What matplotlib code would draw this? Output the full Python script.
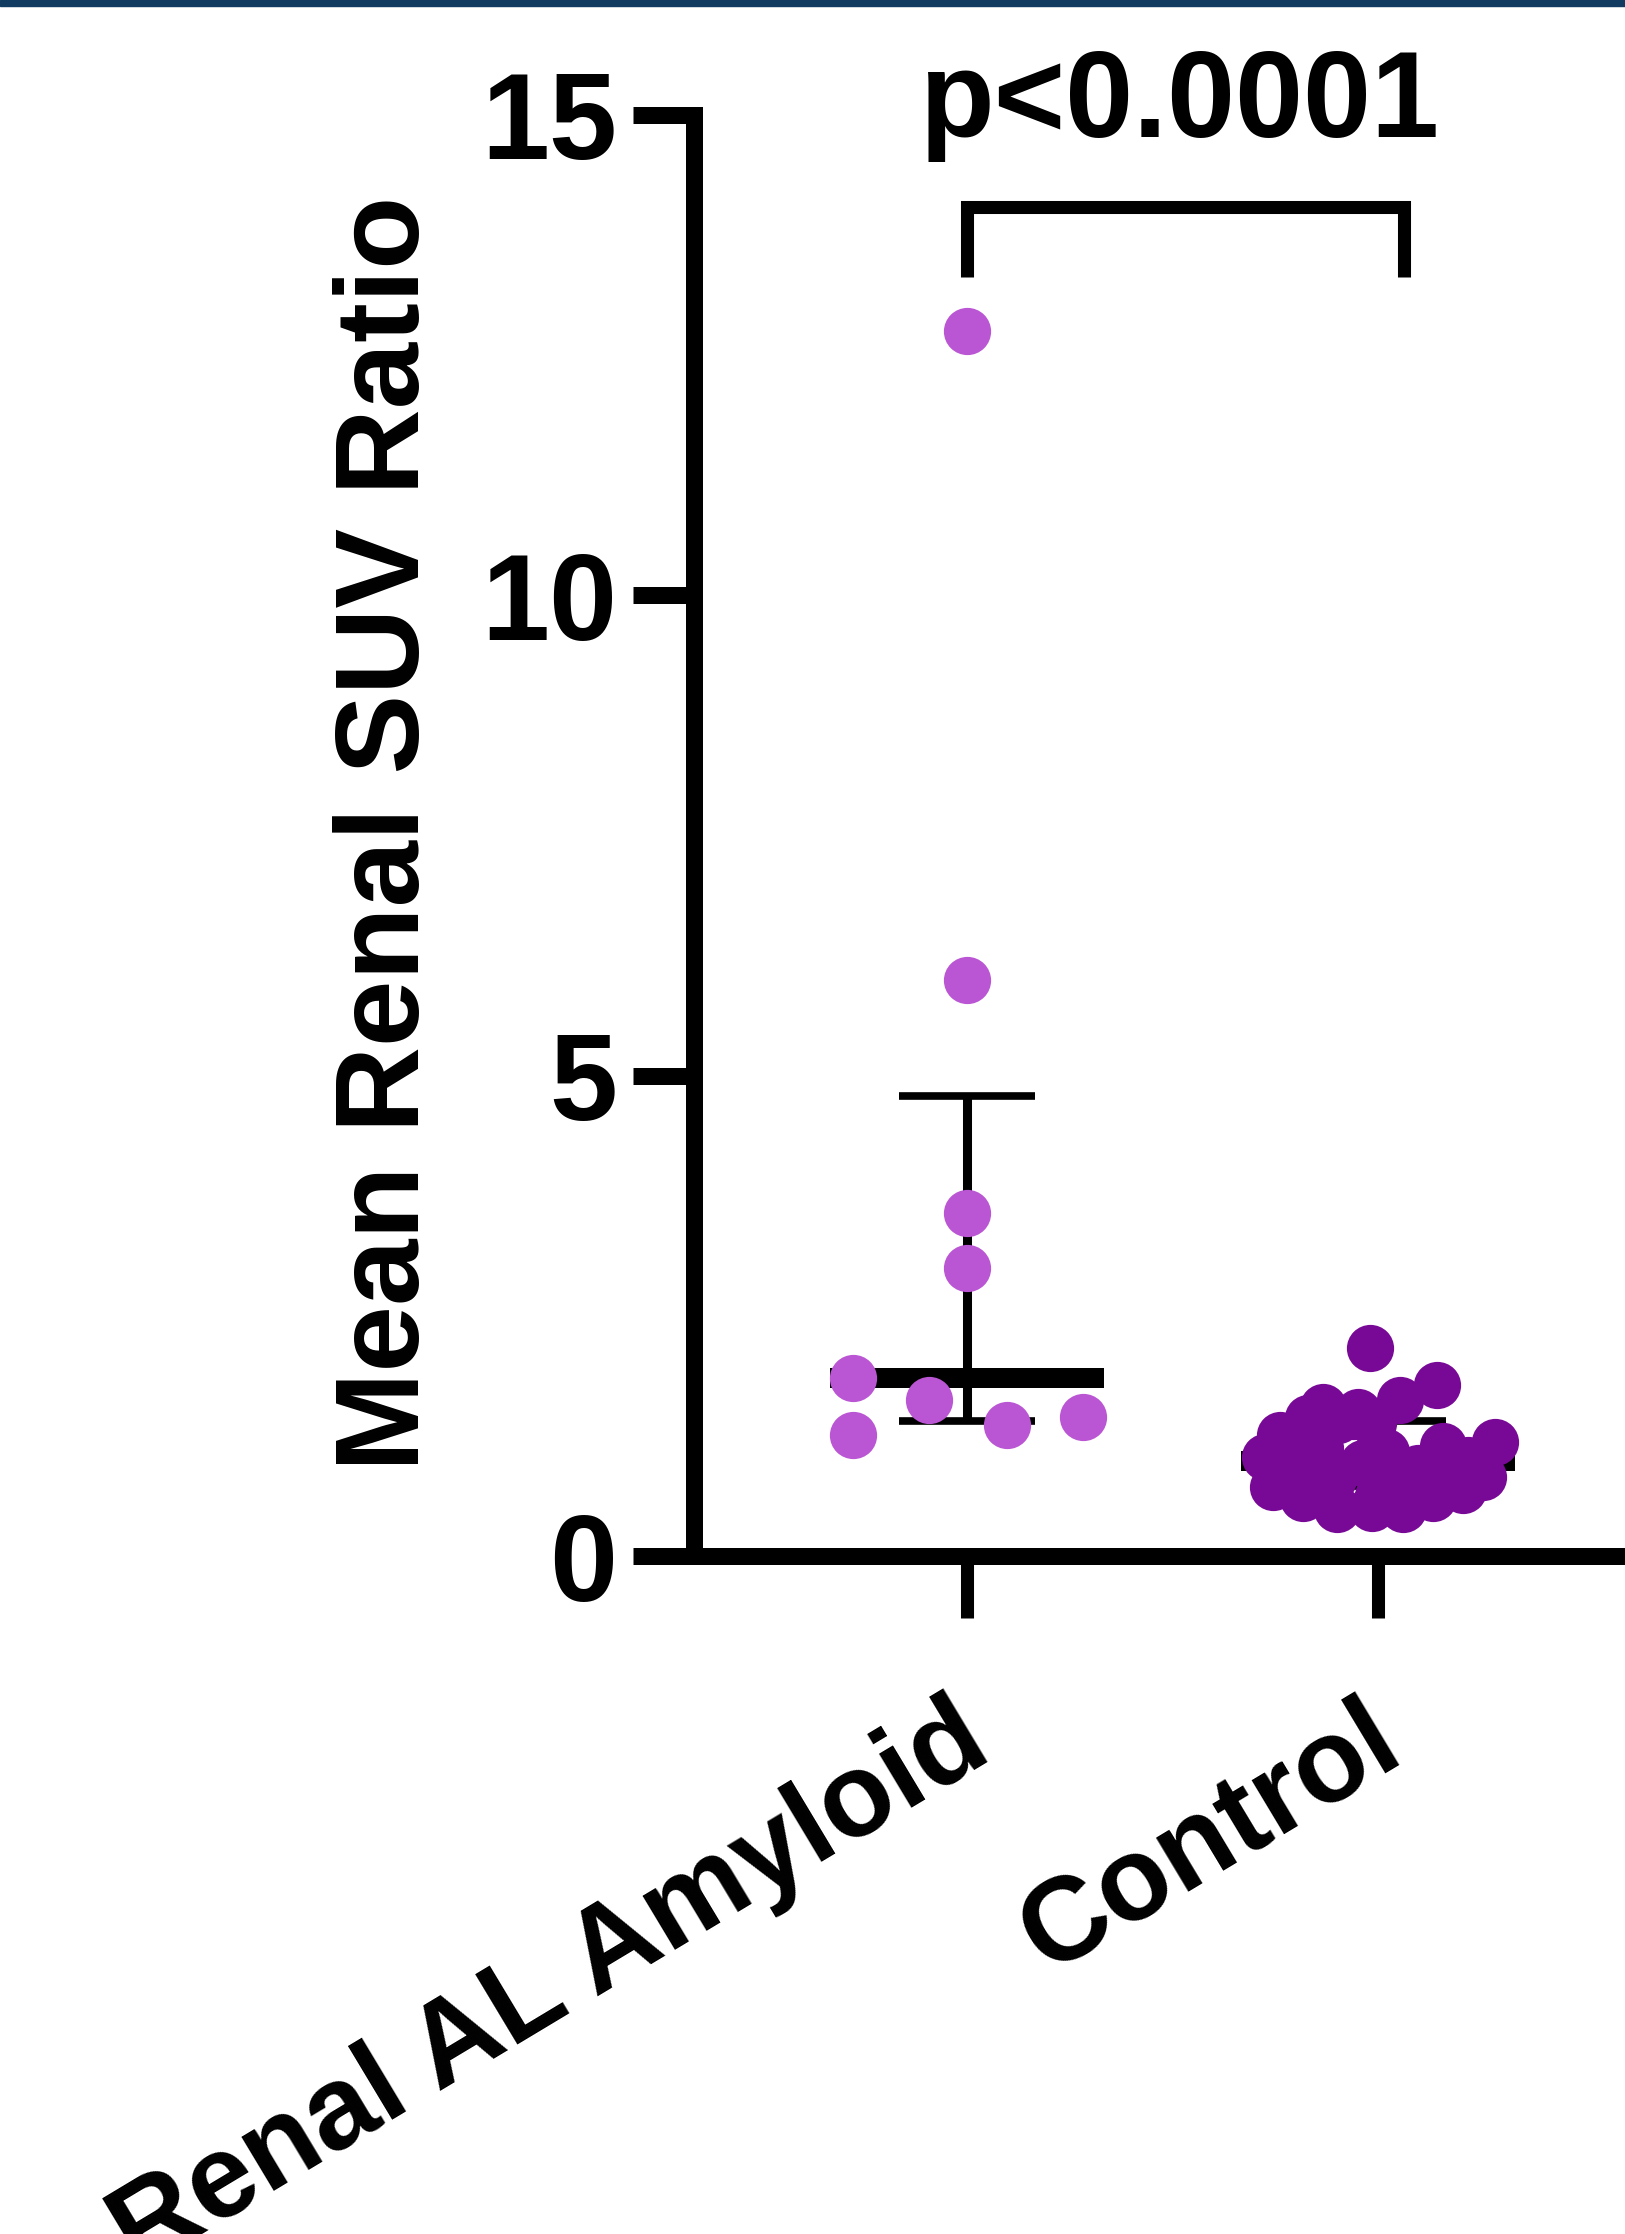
import numpy as np
import matplotlib
matplotlib.use("Agg")
import matplotlib.pyplot as plt
from matplotlib.patches import Rectangle
from matplotlib.transforms import ScaledTranslation

plt.rcParams['font.family'] = ['Liberation Sans', 'DejaVu Sans']
plt.rcParams['font.weight'] = 'bold'

# data
groups = ['Renal AL Amyloid', 'Control']
amyloid = [12.75, 6.00, 3.57, 3.00, 1.85, 1.62, 1.26, 1.36, 1.45]
amyloid_jitter = [0, 0, 0, 0, -0.277, -0.092, -0.277, 0.097, 0.282]
control = [2.17, 1.78, 1.62, 1.55, 1.50, 1.46, 1.26, 1.42, 1.19, 1.15,
           1.03, 1.38, 1.00, 0.98, 0.97, 0.92, 0.82, 0.72, 0.80, 0.76,
           0.69, 0.49, 0.50, 0.49, 0.60, 0.60, 1.12, 1.08, 0.88, 0.86,
           0.62, 1.44]
control_jitter = [-0.019, 0.144, 0.054, -0.134, -0.049, -0.061, -0.238, -0.097, 0.285, 0.158,
                  -0.275, -0.012, 0.219, -0.165, -0.036, 0.097, 0.255, -0.255, -0.109, 0.049,
                  0.207, -0.100, -0.015, 0.061, 0.134, -0.182, -0.140, 0.020, -0.190, 0.160,
                  0.000, -0.170]
colors = ['#BA55D3', '#780896']
y_ticks = [0, 5, 10, 15]
p_label = 'p<0.0001'


def median_iqr(vals):
    q1, med, q3 = np.percentile(vals, [25, 50, 75], method='weibull')
    return q1, med, q3


fig = plt.figure(figsize=(16.25, 22.34), dpi=100)
fig.add_artist(Rectangle((0, 1 - 6 / 2234), 1, 6 / 2234, transform=fig.transFigure,
                         color='#113b60', zorder=10))

ax = fig.add_axes([694 / 1625, 678 / 2234, 931 / 1625, 1441 / 2234])
ax.set_xlim(-0.664, 1.601)
ax.set_ylim(0, 15)

for i, (vals, jit) in enumerate([(amyloid, amyloid_jitter), (control, control_jitter)]):
    q1, med, q3 = median_iqr(vals)
    ax.plot([i - 0.333, i + 0.333], [med, med], color='black', lw=14.4,
            solid_capstyle='butt', zorder=2)
    ax.plot([i, i], [q1, q3], color='black', lw=6.5, solid_capstyle='butt', zorder=2)
    for q in (q1, q3):
        ax.plot([i - 0.165, i + 0.165], [q, q], color='black', lw=5.5,
                solid_capstyle='butt', zorder=2)
    ax.plot(i + np.array(jit), vals, 'o', ms=34, color=colors[i], mec='none', zorder=3)

# significance bracket
ax.plot([0, 0, 1.063, 1.063], [13.31, 14.04, 14.04, 13.31], color='black', lw=9.4,
        solid_joinstyle='miter', solid_capstyle='butt', clip_on=False)
ax.text(0.518, 14.77, p_label, ha='center', va='baseline', fontsize=88,
        fontweight='bold', clip_on=False)

for side in ['top', 'right']:
    ax.spines[side].set_visible(False)
for side in ['left', 'bottom']:
    ax.spines[side].set_linewidth(12.24)
    ax.spines[side].set_capstyle('projecting')

ax.set_yticks(y_ticks)
ax.tick_params(axis='y', length=44, width=12.24, pad=11, labelsize=88)
ax.set_xticks([0, 1])
ax.set_xticklabels(groups, rotation=31, ha='right', va='center',
                   rotation_mode='anchor', fontsize=85)
ax.tick_params(axis='x', length=44.6, width=9.4, pad=82)
shift = ScaledTranslation(9 / 72, 0, fig.dpi_scale_trans)
for lab in ax.get_xticklabels():
    lab.set_transform(lab.get_transform() + shift)

ax.set_ylabel('Mean Renal SUV Ratio', fontsize=86, fontweight='bold')
ax.yaxis.set_label_coords(-0.268, 0.5017)

fig.savefig('out.png', dpi=100)
